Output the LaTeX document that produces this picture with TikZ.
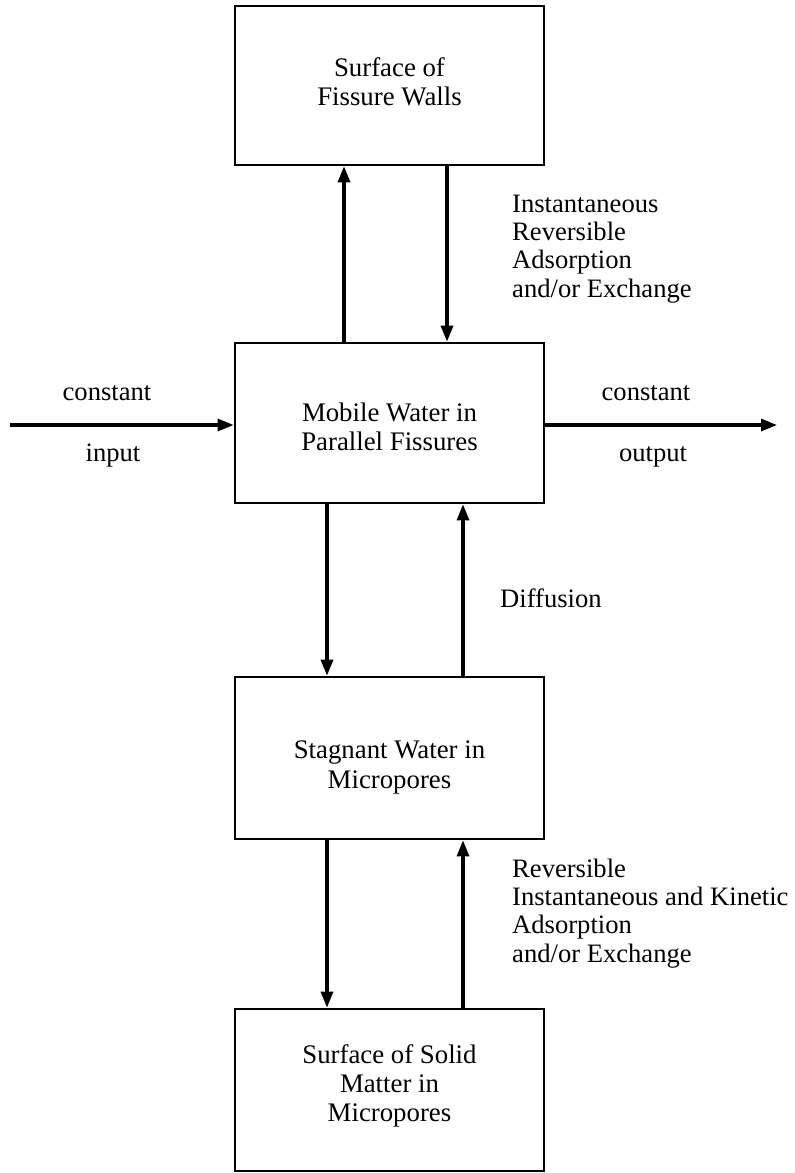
\documentclass[tikz,border=0pt]{standalone}
\usepackage{fontspec}
\setmainfont{Liberation Serif}
\usetikzlibrary{arrows.meta,calc}
\newcommand{\boxtext}[2]{\raisebox{#1}[0pt][0pt]{\parbox{300pt}{\centering\fontsize{26.8}{29}\selectfont #2}}}
\begin{document}
\begin{tikzpicture}[x=1pt,y=-1pt,
  box/.style={draw,line width=2.6pt,minimum width=309pt,inner sep=0pt,align=center},
  lbl/.style={inner sep=0pt,font=\fontsize{26.6}{28.3}\selectfont},
  arr/.style={line width=3.2pt,-{Triangle[width=12pt,length=16pt]}}]
\useasboundingbox (0,0) rectangle (795,1173);
\node[box,minimum height=159pt] (b1) at (389.5,85.5) {\boxtext{1pt}{Surface of\\Fissure Walls}};
\node[box,minimum height=160pt] (b2) at (389.5,423) {\boxtext{-6.5pt}{Mobile Water in\\Parallel Fissures}};
\node[box,minimum height=162pt] (b3) at (389.5,758) {\boxtext{-11.5pt}{Stagnant Water in\\[1pt]Micropores}};
\node[box,minimum height=162pt] (b4) at (389.5,1090) {\boxtext{2pt}{Surface of Solid\\Matter in\\Micropores}};
\coordinate (xa) at (344,0);
\coordinate (xb) at (447,0);
\coordinate (xc) at (327,0);
\coordinate (xd) at (463,0);
\coordinate (in) at (10,425);
\coordinate (out) at (777,425);
\draw[arr] (b2.north -| xa) -- (b1.south -| xa);
\draw[arr] (b1.south -| xb) -- (b2.north -| xb);
\draw[arr] (in) -- (b2.west |- in);
\draw[arr] (b2.east |- out) -- (out);
\draw[arr] (b2.south -| xc) -- (b3.north -| xc);
\draw[arr] (b3.north -| xd) -- (b2.south -| xd);
\draw[arr] (b3.south -| xc) -- (b4.north -| xc);
\draw[arr] (b4.north -| xd) -- (b3.south -| xd);
\node[lbl,anchor=base] (cin) at (107,400) {constant};
\node[lbl,anchor=base] (iin) at (113,461) {input};
\node[lbl,anchor=base] (cout) at (646,400) {constant};
\node[lbl,anchor=base] (oout) at (653,461) {output};
\node[lbl,anchor=base west,align=left] (l1) at (512,297) {Instantaneous\\Reversible\\Adsorption\\and/or Exchange};
\node[lbl,anchor=base west] (l2) at (500,607) {Diffusion};
\node[lbl,anchor=base west,align=left] (l3) at (512,962) {Reversible\\Instantaneous and Kinetic\\Adsorption\\and/or Exchange};
\end{tikzpicture}
\end{document}
